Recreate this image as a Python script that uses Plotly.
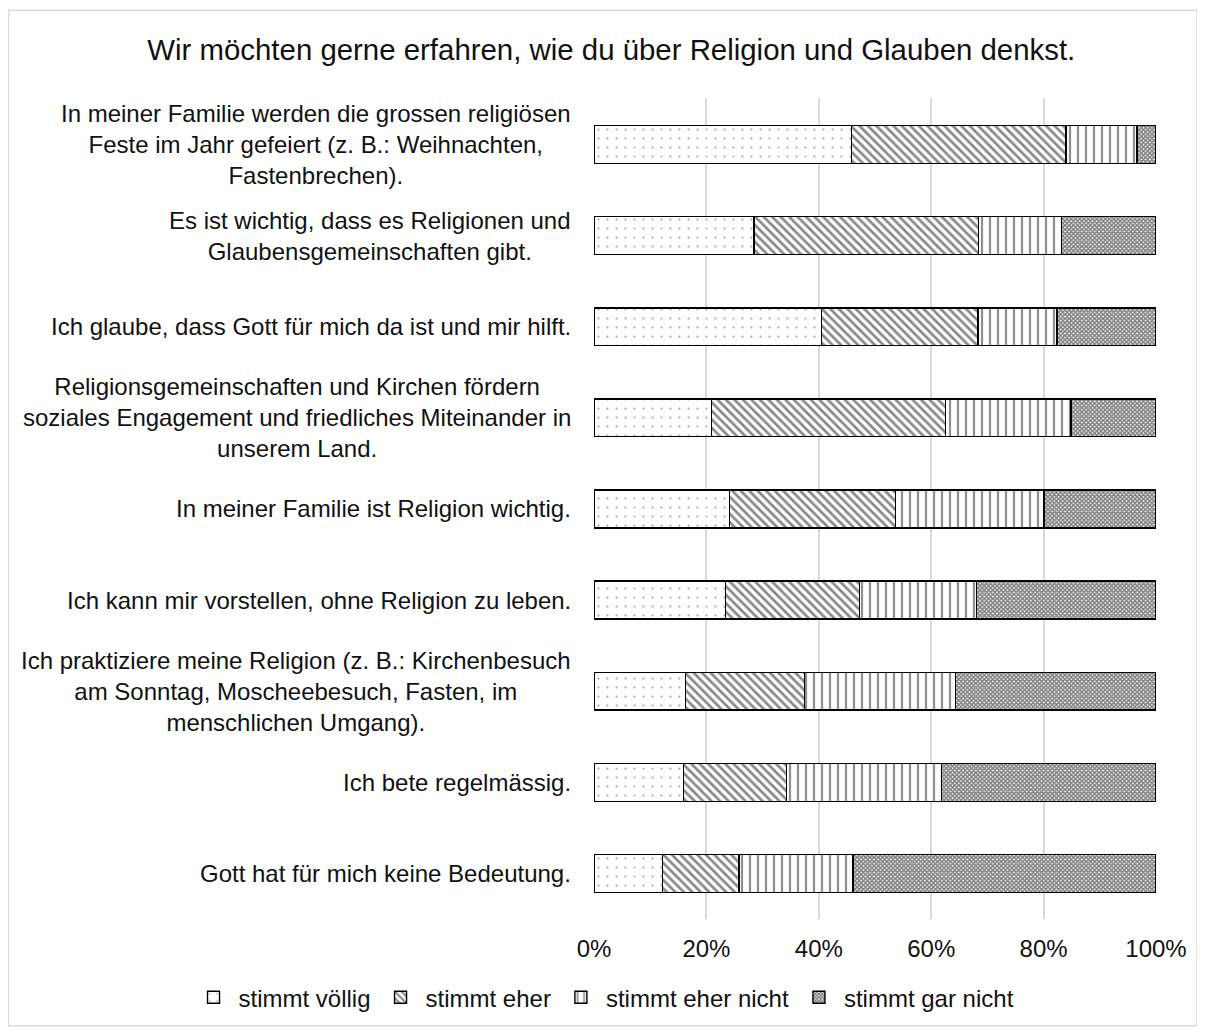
import plotly.graph_objects as go

statements = [
    "In meiner Familie werden die grossen religiösen<br>Feste im Jahr gefeiert (z. B.: Weihnachten,<br>Fastenbrechen).",
    "Es ist wichtig, dass es Religionen und<br>Glaubensgemeinschaften gibt.",
    "Ich glaube, dass Gott für mich da ist und mir hilft.",
    "Religionsgemeinschaften und Kirchen fördern<br>soziales Engagement und friedliches Miteinander in<br>unserem Land.",
    "In meiner Familie ist Religion wichtig.",
    "Ich kann mir vorstellen, ohne Religion zu leben.",
    "Ich praktiziere meine Religion (z. B.: Kirchenbesuch<br>am Sonntag, Moscheebesuch, Fasten, im<br>menschlichen Umgang).",
    "Ich bete regelmässig.",
    "Gott hat für mich keine Bedeutung.",
]

stimmt_voellig = [45.8, 28.5, 40.5, 20.9, 24.1, 23.4, 16.3, 15.9, 12.2]
stimmt_eher = [38.2, 39.9, 27.8, 41.6, 29.6, 23.8, 21.2, 18.3, 13.6]
stimmt_eher_nicht = [12.6, 14.8, 14.1, 22.4, 26.4, 20.9, 26.8, 27.6, 20.3]
stimmt_gar_nicht = [3.4, 16.8, 17.6, 15.1, 19.9, 31.9, 35.7, 38.2, 53.9]

series = [
    ("stimmt völlig", stimmt_voellig, dict(shape=".", size=9, solidity=0.035, fgcolor="#333")),
    ("stimmt eher", stimmt_eher, dict(shape="\\", size=6, solidity=0.45, fgcolor="#111")),
    ("stimmt eher nicht", stimmt_eher_nicht, dict(shape="|", size=8, solidity=0.28, fgcolor="#222")),
    ("stimmt gar nicht", stimmt_gar_nicht, dict(shape="x", size=3, solidity=0.75, fgcolor="#000")),
]

FONT = "Liberation Sans, Arial, sans-serif"

fig = go.Figure()
for name, vals, pat in series:
    fig.add_trace(go.Bar(
        y=statements, x=vals, name=name, orientation="h",
        marker=dict(color="white", pattern=dict(bgcolor="white", **pat),
                    line=dict(color="#000", width=1.4)),
    ))

# statement labels, lines centred on each other like the original
for s in statements:
    fig.add_annotation(x=-0.0374, xref="paper", y=s, yref="y", text=s,
                       showarrow=False, xanchor="right", yanchor="middle",
                       align="center",
                       font=dict(size=24, color="#111", family=FONT))

# outer chart border
fig.add_shape(type="rect", xref="paper", yref="paper",
              x0=-1.042, x1=1.073, y0=-0.13, y1=1.107,
              line=dict(color="#d9d9d9", width=1.5))

fig.update_layout(
    width=1197, height=1024,
    barmode="stack", bargap=0.585,
    plot_bgcolor="white", paper_bgcolor="white",
    margin=dict(l=586, r=49, t=90, b=109),
    font=dict(family=FONT, size=24, color="#111"),
    title=dict(text="Wir möchten gerne erfahren, wie du über Religion und Glauben denkst.",
               x=0.504, xanchor="center", y=0.959, yanchor="middle",
               font=dict(size=29.4, color="#111", family=FONT)),
    legend=dict(orientation="h", x=-0.7215, xanchor="left", y=-0.0958, yanchor="middle",
                font=dict(size=24), traceorder="normal", itemwidth=40),
    showlegend=True,
)
fig.update_xaxes(range=[0, 100], tickvals=[0, 20, 40, 60, 80, 100],
                 ticktext=["0%", "20%", "40%", "60%", "80%", "100%"],
                 showgrid=True, gridcolor="#d9d9d9", gridwidth=1.5,
                 zeroline=False, ticks="", ticklabelstandoff=13,
                 tickfont=dict(size=24))
fig.update_yaxes(autorange="reversed", showticklabels=False, showgrid=False,
                 zeroline=False)

fig.write_html("out.html")
